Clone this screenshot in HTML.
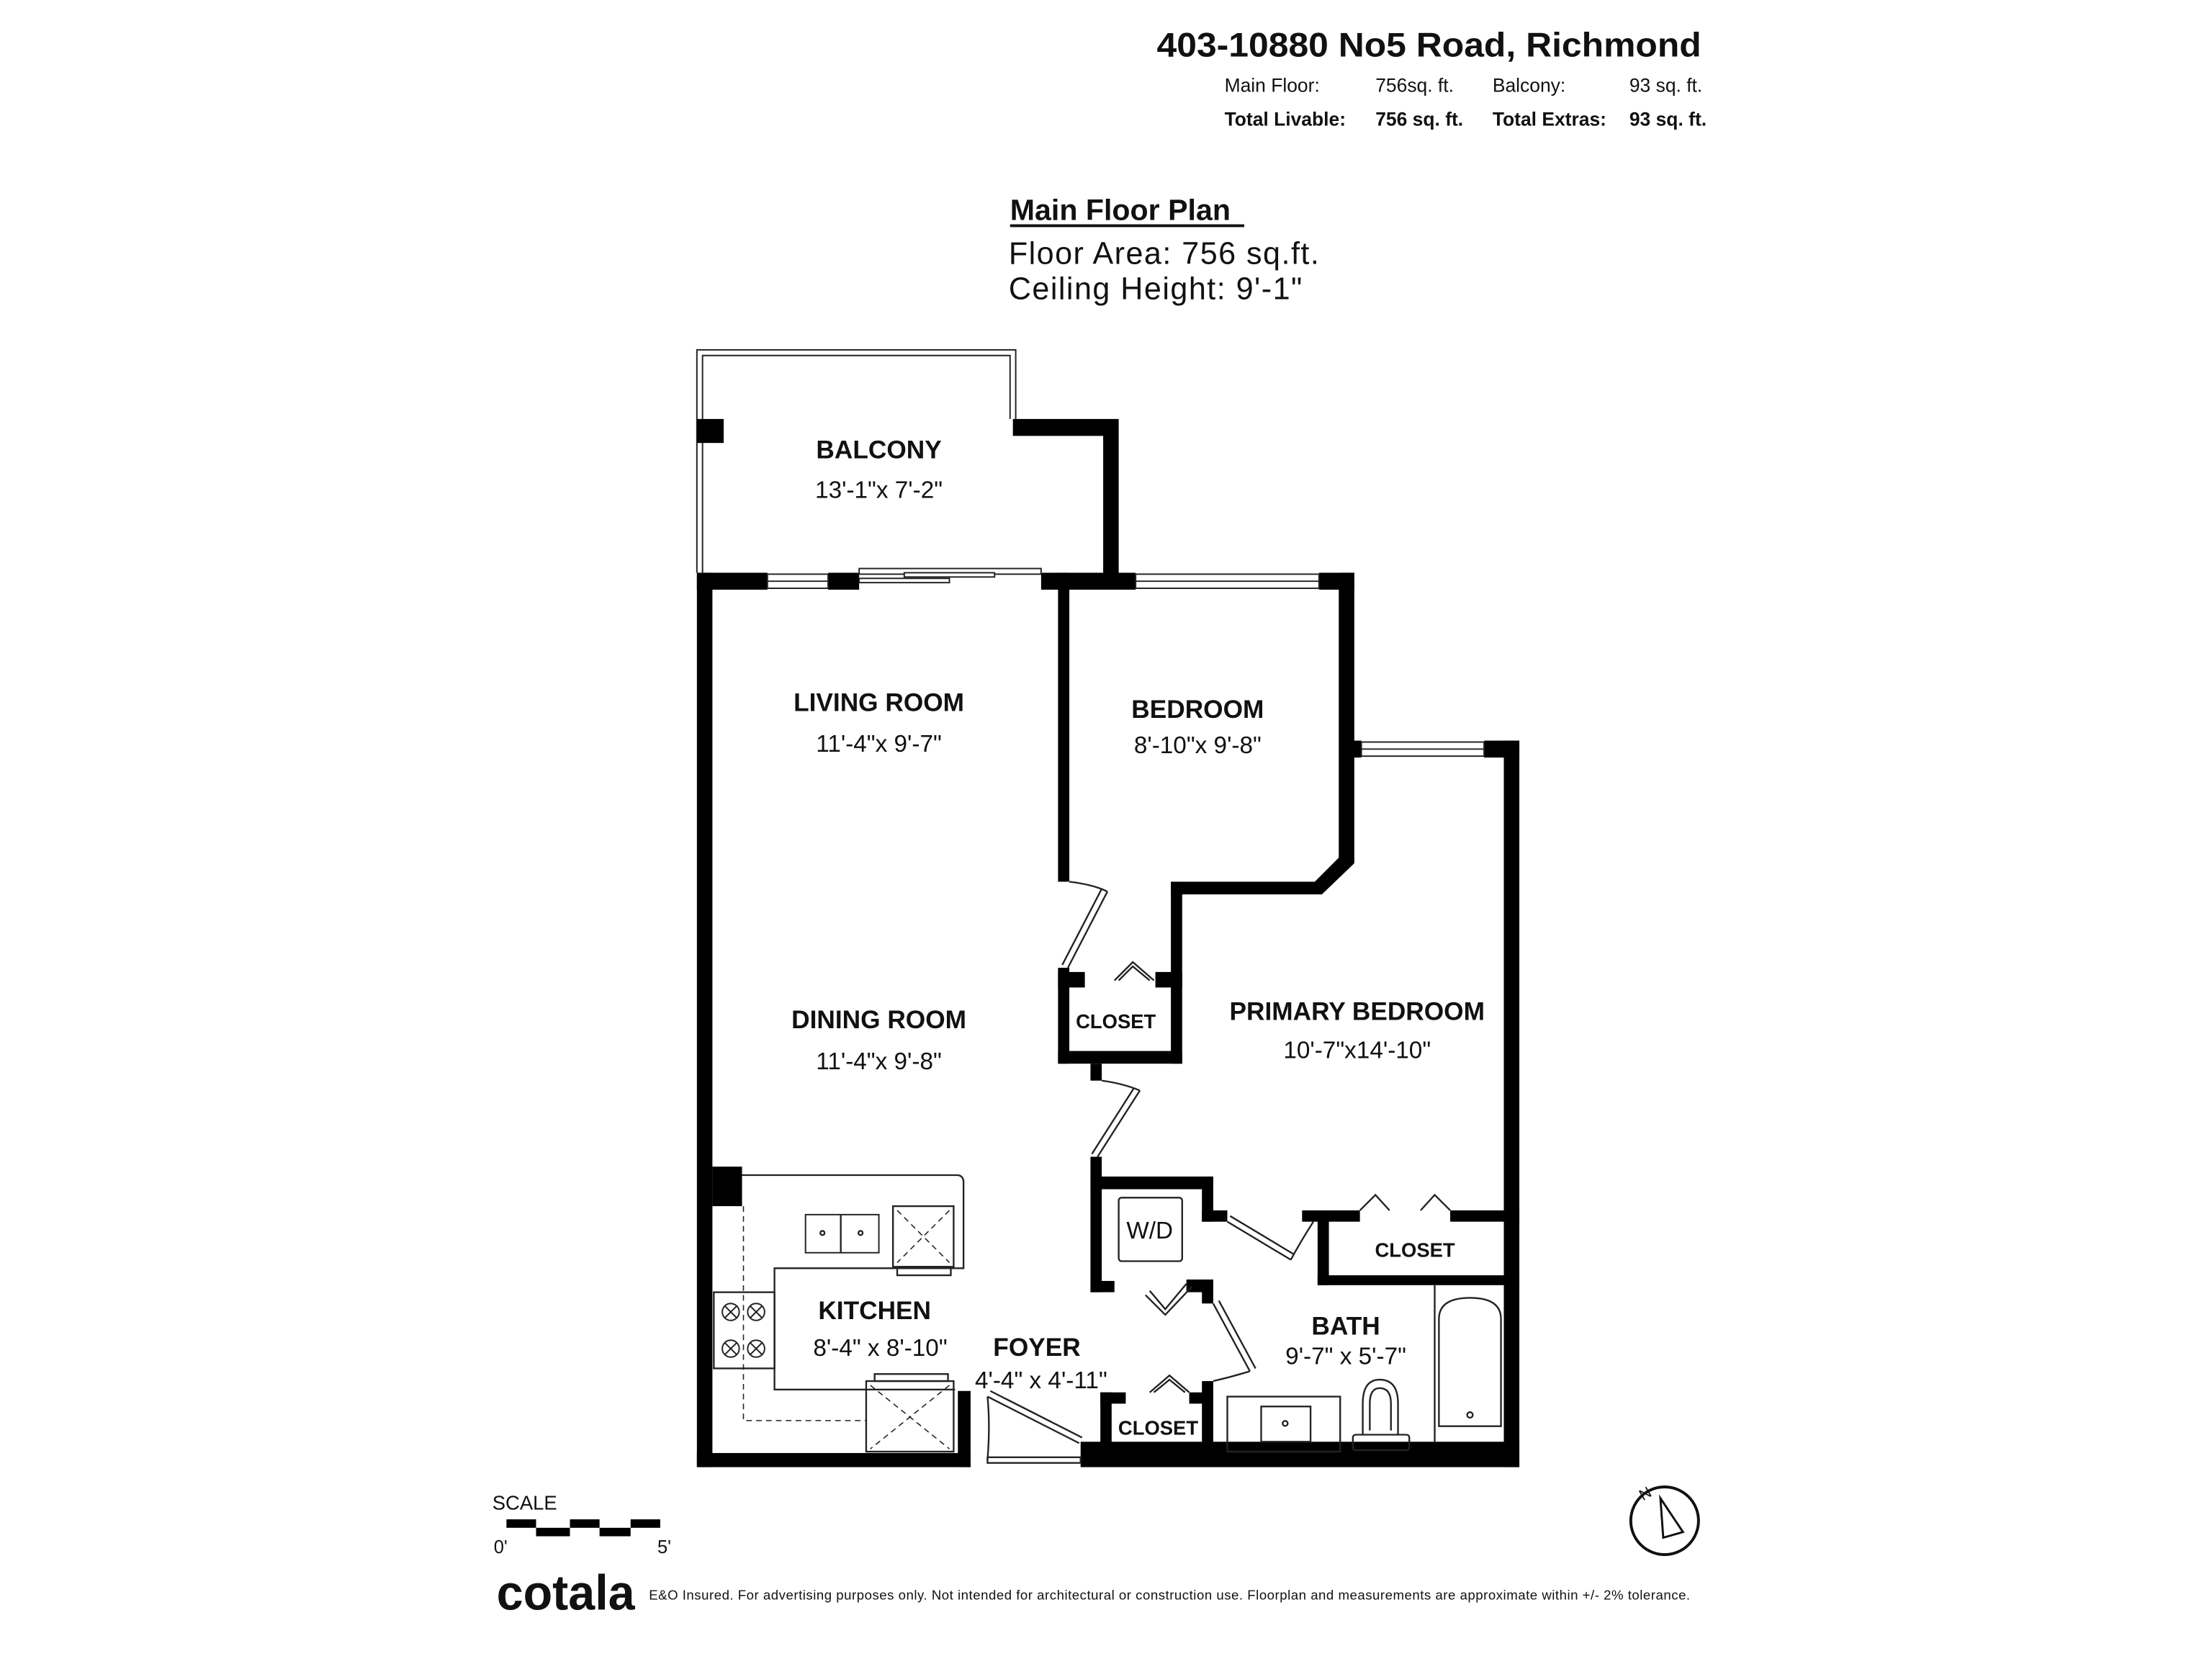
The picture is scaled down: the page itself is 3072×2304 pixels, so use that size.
<!DOCTYPE html>
<html><head><meta charset="utf-8"><style>
html,body{margin:0;padding:0;background:#fff;}
svg{display:block;}
text{font-family:"Liberation Sans",sans-serif;fill:#111;}
.rn{font-weight:bold;font-size:18px;}
.dm{font-size:17px;}
.cl{font-weight:bold;font-size:14px;}
</style></head><body>
<svg width="3072" height="2304" viewBox="0 0 1568 1176" xmlns="http://www.w3.org/2000/svg">
<rect width="1568" height="1176" fill="#fff"/>
<!-- header -->
<text x="820" y="40" textLength="386" lengthAdjust="spacingAndGlyphs" style="font-weight:bold;font-size:24px">403-10880 No5 Road, Richmond</text>
<g style="font-size:13.5px">
<text x="868" y="65">Main Floor:</text><text x="975" y="65">756sq. ft.</text>
<text x="1058" y="65">Balcony:</text><text x="1155" y="65">93 sq. ft.</text>
<g style="font-weight:bold"><text x="868" y="89">Total Livable:</text><text x="975" y="89">756 sq. ft.</text>
<text x="1058" y="89">Total Extras:</text><text x="1155" y="89">93 sq. ft.</text></g>
</g>
<text x="716" y="156" style="font-weight:bold;font-size:21px">Main Floor Plan</text>
<rect x="716" y="159" width="166" height="2" fill="#111"/>
<text x="715" y="187" textLength="220" style="font-size:22px">Floor Area: 756 sq.ft.</text>
<text x="715" y="212" textLength="208" style="font-size:22px">Ceiling Height: 9'-1"</text>

<!-- balcony -->
<path d="M494 406 V248 H720 V297" fill="none" stroke="#222" stroke-width="1"/>
<path d="M498 406 V252 H716 V297" fill="none" stroke="#222" stroke-width="1"/>
<rect x="494" y="297" width="19" height="17" fill="#000"/>
<path d="M718 297 H793 V416 H782 V309 H718 Z" fill="#000"/>

<!-- main walls -->
<g fill="#000">
<rect x="494" y="406" width="11" height="634"/>
<rect x="494" y="406" width="50" height="12"/>
<rect x="587" y="406" width="22" height="12"/>
<rect x="738" y="406" width="67" height="12"/>
<rect x="935" y="406" width="25" height="12"/>
<rect x="949" y="406" width="11" height="204"/>
<polygon points="949,608 960,608 960,612 937,634 830,634 830,625 932,625 949,608"/>
<rect x="750" y="406" width="8" height="219"/>
<rect x="750" y="686" width="8" height="68"/>
<rect x="750" y="689" width="19" height="11"/>
<rect x="830" y="625" width="8" height="129"/>
<rect x="819" y="689" width="19" height="11"/>
<rect x="750" y="745" width="88" height="9"/>
<rect x="773" y="754" width="8" height="12"/>
<rect x="773" y="820" width="8" height="96"/>
<rect x="773" y="908" width="17" height="8"/>
<rect x="773" y="834" width="87" height="9"/>
<rect x="852" y="834" width="8" height="32"/>
<rect x="852" y="858" width="18" height="8"/>
<rect x="852" y="907" width="8" height="17"/>
<rect x="841" y="907" width="19" height="9"/>
<rect x="852" y="979" width="8" height="51"/>
<rect x="780" y="987" width="8" height="45"/>
<rect x="780" y="987" width="18" height="8"/>
<rect x="843" y="987" width="17" height="8"/>
<rect x="958" y="525" width="7" height="12"/>
<rect x="1052" y="525" width="25" height="12"/>
<rect x="1066" y="525" width="11" height="515"/>
<rect x="923" y="858" width="41" height="8"/>
<rect x="1028" y="858" width="49" height="8"/>
<rect x="934" y="858" width="8" height="53"/>
<rect x="934" y="904" width="143" height="7"/>
<rect x="494" y="1030" width="194" height="10"/>
<rect x="679" y="986" width="9" height="54"/>
<rect x="766" y="1022" width="311" height="18"/>
<rect x="505" y="827" width="21" height="28"/>
</g>
<!-- windows -->
<g fill="#fff" stroke="#222" stroke-width="1">
<rect x="544" y="407" width="43" height="10"/><line x1="544" y1="412" x2="587" y2="412"/>
<rect x="805" y="407" width="130" height="10"/><line x1="805" y1="412" x2="935" y2="412"/>
<rect x="965" y="526" width="87" height="10"/><line x1="965" y1="531" x2="1052" y2="531"/>
<rect x="609" y="403" width="129" height="4"/>
<rect x="641" y="406" width="64" height="3"/><rect x="609" y="410" width="64" height="3"/>
</g>
<!-- doors -->
<g fill="none" stroke="#222" stroke-width="1.2">
<path d="M758 625 Q775 627 785 632"/><path d="M785 632 L757 686 M781 630 L753 684"/>
<path d="M781 766 Q796 768 808 773"/><path d="M808 773 L778 820 M804 771 L774 818"/>
<path d="M870 866 L915 893 M872 862 L917 889"/><path d="M915 893 Q922 880 931 866"/>
<path d="M860 924 L886 972 M864 922 L890 970"/><path d="M886 972 Q873 976 860 979"/>
<path d="M700 990 L765 1023 M702 986 L767 1019"/><path d="M700 990 Q702 1010 700 1035"/>
<rect x="700" y="1033" width="66" height="4"/>
<path d="M790 695 L803 682 L818 695 M793 695 L803 685 L815 695"/>
<path d="M964 858 L975 847 L985 858 M1007 858 L1017 847 L1028 858"/>
<path d="M815 987 L829 975 L843 987 M818 987 L829 978 L840 987"/>
<path d="M815 915 L826 928 L841 910 M812 918 L826 932 L845 912"/>
<!-- kitchen -->
<path d="M526 833 H678 Q683 833 683 838 V899 H549 V985 H677"/>
<path d="M527 855 V1007 H614" stroke-dasharray="4,3" stroke-width="0.8"/>
<rect x="571" y="861" width="52" height="27" stroke-width="1"/><line x1="596" y1="861" x2="596" y2="888"/>
<circle cx="583" cy="874" r="1.5"/><circle cx="610" cy="874" r="1.5"/>
<rect x="633" y="855" width="43" height="43"/>
<path d="M636 858 L673 895 M673 858 L636 895" stroke-dasharray="4,3" stroke-width="0.8"/>
<rect x="636" y="898" width="38" height="6"/>
<rect x="506" y="916" width="43" height="54"/>
<g stroke-width="1"><circle cx="518" cy="930" r="6"/><circle cx="536" cy="930" r="6"/><circle cx="518" cy="956" r="6"/><circle cx="536" cy="956" r="6"/>
<path d="M514 926 L522 934 M522 926 L514 934 M532 926 L540 934 M540 926 L532 934 M514 952 L522 960 M522 952 L514 960 M532 952 L540 960 M540 952 L532 960"/></g>
<rect x="614" y="979" width="62" height="50"/><rect x="620" y="974" width="52" height="5"/>
<path d="M617 982 L673 1027 M673 982 L617 1027" stroke-dasharray="4,3" stroke-width="0.8"/>
<rect x="793" y="849" width="45" height="45" rx="2"/>
<rect x="870" y="990" width="80" height="39"/>
<rect x="894" y="997" width="35" height="25"/><circle cx="911" cy="1009" r="1.8"/>
<path d="M966 1017 V995 Q966 978 978 978 Q991 978 991 995 V1017" /><path d="M971 1014 V995 Q971 984 978 984 Q986 984 986 995 V1014"/>
<rect x="959" y="1017" width="40" height="11" rx="2"/>
<line x1="1017" y1="911" x2="1017" y2="1022"/>
<path d="M1020 1011 V935 Q1020 920 1042 920 Q1064 920 1064 935 V1011 Z"/>
<circle cx="1042" cy="1003" r="2"/>
</g>
<!-- labels -->
<g text-anchor="middle">
<text class="rn" x="623" y="325">BALCONY</text><text class="dm" x="623" y="353">13'-1"x  7'-2"</text>
<text class="rn" x="623" y="504">LIVING ROOM</text><text class="dm" x="623" y="533">11'-4"x  9'-7"</text>
<text class="rn" x="849" y="509">BEDROOM</text><text class="dm" x="849" y="534">8'-10"x  9'-8"</text>
<text class="rn" x="623" y="729">DINING ROOM</text><text class="dm" x="623" y="758">11'-4"x  9'-8"</text>
<text class="rn" x="962" y="723">PRIMARY BEDROOM</text><text class="dm" x="962" y="750">10'-7"x14'-10"</text>
<text class="cl" x="791" y="729">CLOSET</text>
<text class="cl" x="1003" y="891">CLOSET</text>
<text class="cl" x="821" y="1017">CLOSET</text>
<text style="font-size:17px" x="815" y="878">W/D</text>
<text class="rn" x="620" y="935">KITCHEN</text><text class="dm" x="624" y="961">8'-4" x 8'-10"</text>
<text class="rn" x="735" y="961">FOYER</text><text class="dm" x="738" y="984">4'-4" x 4'-11"</text>
<text class="rn" x="954" y="946">BATH</text><text class="dm" x="954" y="967">9'-7"  x  5'-7"</text>
</g>
<!-- scale -->
<text x="349" y="1070" style="font-size:14px">SCALE</text>
<g fill="#000">
<rect x="359" y="1077" width="21" height="6"/><rect x="380" y="1083" width="24" height="6"/>
<rect x="404" y="1077" width="21" height="6"/><rect x="425" y="1083" width="22" height="6"/>
<rect x="447" y="1077" width="21" height="6"/>
</g>
<text x="350" y="1101" style="font-size:13px">0'</text><text x="466" y="1101" style="font-size:13px">5'</text>
<text x="352" y="1141" textLength="98" lengthAdjust="spacingAndGlyphs" style="font-weight:bold;font-size:35px">cotala</text>
<text x="460" y="1134" style="font-size:9.5px" textLength="738">E&amp;O Insured. For advertising purposes only. Not intended for architectural or construction use. Floorplan and measurements are approximate within +/- 2% tolerance.</text>
<!-- compass -->
<circle cx="1180" cy="1078" r="24" fill="none" stroke="#111" stroke-width="2"/>
<path d="M1177 1062 L1193 1086 L1179 1090 Z" fill="none" stroke="#111" stroke-width="1.5"/>
<text x="1162" y="1062" style="font-size:11px" transform="rotate(-30 1167 1058)">N</text>
</svg>
</body></html>
